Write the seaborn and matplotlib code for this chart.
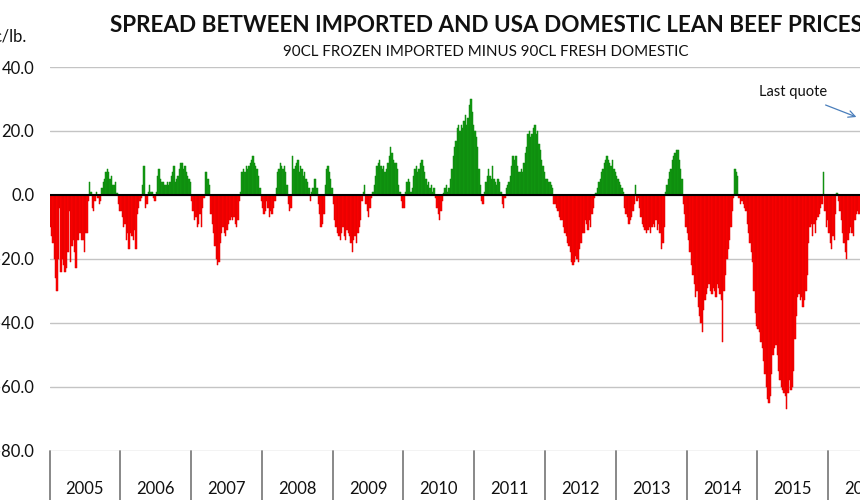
import numpy as np
import pandas as pd
import matplotlib
matplotlib.use("Agg")
import matplotlib.pyplot as plt
import matplotlib.transforms as mtransforms
from matplotlib.colors import to_rgb
import seaborn as sns

# ---- data: weekly spread, US cents per lb ----
years = [2005, 2006, 2007, 2008, 2009, 2010, 2011, 2012, 2013, 2014, 2015, 2016]

v2005 = [-10, -13, -15, -20, -26, -30, -20, -4, -24, -20, -22, -24, -23, -18, -5, -21, -16, -14, -18, -23,
         -14, -14, -12, -14, -14, -18, -12, -12, -2, 4, 1, -4, -5, -2, 1, -1, -3, -2, 2, 4,
         5, 7, 8, 7, 5, 6, 3, 3, 4, 0.5, -3, -5]
v2006 = [-5, -7, -10, -9, -14, -12, -17, -12, -13, -14, -11, -17, -6, -4, -2, -1, 3, 9, -4, -3,
         1, 3, 1, 1, -1, -2, 1, 6, 8, 5, 4, 4, 3, 3, 4, 3, 4, 6, 7, 9,
         4, 5, 6, 8, 10, 10, 8, 9, 7, 6, 5, 4]
v2007 = [-2, -5, -8, -7, -10, -9, -6, -10, -4, -1, 7, 7, 5, 3, -6, -9, -12, -16, -20, -22,
         -21, -15, -12, -10, -12, -13, -11, -9, -8, -7, -8, -7, -9, -10, -8, -2, 1, 7, 8, 7,
         9, 8, 9, 10, 11, 12, 10, 9, 8, 6, 2, -2]
v2008 = [-4, -6, -5, -2, -4, -7, -5, -6, -4, -2, 2, 7, 8, 10, 9, 8, 9, 7, 3, -3,
         -5, -4, 12, 8, 9, 10, 11, 7, 9, 8, 6, 7, 5, 4, 2, -2, 1, 2, 5, 5,
         2, -3, -6, -10, -9, -6, 3, 8, 9, 7, 5, 2]
v2009 = [-3, -8, -10, -12, -13, -14, -12, -10, -13, -14, -11, -12, -13, -15, -18, -14, -13, -15, -12, -10,
         -8, -2, 1, 3, -3, -5, -7, -4, -1, 1, 3, 6, 9, 10, 11, 9, 8, 9, 7, 8,
         10, 12, 15, 13, 11, 10, 10, 8, 3, 1, -2, -4]
v2010 = [-4, 1, 4, 5, 4, 1, 2, 6, 8, 9, 7, 8, 10, 11, 9, 7, 5, 3, 4, 2,
         3, 1, 2, -1, -4, -6, -8, -5, -2, 0.5, 2, 3, 1, 2, 5, 8, 12, 15, 17, 21,
         22, 20, 22, 21, 23, 25, 22, 24, 28, 30, 26, 22]
v2011 = [20, 18, 15, 8, 3, -2, -3, 1, 4, 6, 8, 6, 5, 9, 5, 4, 3, 5, 4, 1,
         -3, -4, -1, 2, 3, 4, 6, 9, 12, 11, 12, 9, 7, 7, 8, 7, 10, 13, 15, 19,
         20, 18, 19, 21, 22, 19, 20, 16, 14, 11, 9, 7]
v2012 = [5, 5, 4, 4, 3, 2, -3, -3, -4, -5, -7, -8, -8, -10, -12, -13, -15, -16, -18, -21,
         -22, -21, -19, -20, -21, -17, -15, -12, -12, -8, -9, -11, -8, -10, -6, -4, -1, 0.5, 2, 4,
         5, 7, 8, 10, 11, 12, 11, 10, 9, 11, 8, 7]
v2013 = [6, 5, 4, 3, 2, 1, -4, -6, -7, -9, -8, -7, -5, -3, 3, -2, -1, -4, -7, -9,
         -10, -11, -12, -11, -10, -12, -10, -9, -10, -8, -11, -9, -12, -17, -15, -10, 1, 3, 5, 7,
         8, 11, 12, 13, 14, 14, 11, 8, 5, -3, -6, -10]
v2014 = [-12, -14, -18, -22, -25, -28, -32, -30, -35, -38, -40, -43, -36, -33, -31, -29, -28, -30, -31, -29,
         -30, -32, -28, -29, -31, -33, -46, -30, -25, -20, -17, -14, -10, -5, -1, 8, 7, 6, -1, -3,
         -2, -3, -4, -5, -9, -12, -15, -18, -21, -30, -37, -41]
v2015 = [-42, -43, -46, -48, -52, -56, -60, -64, -65, -63, -56, -50, -48, -47, -50, -55, -58, -60, -61, -62,
         -63, -67, -62, -58, -61, -60, -55, -45, -38, -32, -31, -33, -32, -35, -33, -30, -25, -15, -10, -9,
         -13, -9, -12, -8, -7, -6, -4, -3, 7, -5, -10, -8]
v2016 = [-12, -15, -17, -13, -14, -6, 0.5, -2, -5, -8, -12, -15, -18, -20, -14, -12, -10, -12, -13, -8,
         -6, -5, -6]

series = [v2005, v2006, v2007, v2008, v2009, v2010, v2011, v2012, v2013, v2014, v2015, v2016]
yticks = [-80, -60, -40, -20, 0, 20, 40]

title = "SPREAD BETWEEN IMPORTED AND USA DOMESTIC LEAN BEEF PRICES"
subtitle = "90CL FROZEN IMPORTED MINUS 90CL FRESH DOMESTIC"
unit = "¢/lb."
note = "Last quote"

WEEKS = 52
rows = []
for k, (yr, vals) in enumerate(zip(years, series)):
    for w, v in enumerate(vals):
        rows.append((k * WEEKS + w, yr, v))
df = pd.DataFrame(rows, columns=["week", "year", "spread"])
df["sign"] = np.where(df["spread"] >= 0, "pos", "neg")

sns.set_theme(style="white")
plt.rcParams["font.family"] = ["Lato", "DejaVu Sans"]
plt.rcParams["axes.unicode_minus"] = False

W, H = 860, 500
fig = plt.figure(figsize=(W / 100, H / 100), dpi=100)
x0, x1 = 49.5, 49.5 + 12 * 70.8
ytop, ybot = 67.0, 450.5
ax = fig.add_axes([x0 / W, 1 - ybot / H, (x1 - x0) / W, (ybot - ytop) / H])

GREEN, RED = "#119A11", "#FF0000"
sns.barplot(data=df, x="week", y="spread", hue="sign",
            palette={"pos": GREEN, "neg": RED}, native_scale=True,
            width=1, dodge=False, saturation=1, errorbar=None,
            legend=False, ax=ax)
for p in ax.patches:
    fc = np.array(to_rgb(p.get_facecolor()))
    p.set_edgecolor(tuple(fc * 0.88))
    p.set_linewidth(0.35)

ax.set_xlim(-0.5, len(years) * WEEKS - 0.5)
ax.set_ylim(-80, 40)
ax.set_yticks(yticks)
ax.set_yticklabels([f"{v:.1f}" for v in yticks])
ax.tick_params(axis="y", length=0, pad=11, labelsize=12, labelcolor="#111111")
ax.set_xticks([])
ax.set_xlabel("")
ax.set_ylabel("")
ax.set_axisbelow(True)
ax.yaxis.grid(True, color="#C4C4C4", lw=1.0)
for s in ax.spines.values():
    s.set_visible(False)
ax.axhline(0, color="#000000", lw=1.5, zorder=5)

blend = mtransforms.blended_transform_factory(ax.transData, ax.transAxes)
axh = ybot - ytop
for k in range(len(years) + 1):
    ax.plot([k * WEEKS - 0.5] * 2, [0, -0.2], transform=blend, clip_on=False,
            color="#7F7F7F", lw=1.3)
for k, yr in enumerate(years):
    ax.text(k * WEEKS + WEEKS / 2 - 0.5, -(489 - ybot) / axh, str(yr), transform=blend,
            ha="center", va="center", fontsize=12, color="#111111", clip_on=False)

fig.text(486 / W, 1 - 25 / H, title, ha="center", va="center",
         fontsize=16.2, fontweight="bold", color="#111111")
fig.text(486 / W, 1 - 52 / H, subtitle, ha="center", va="center",
         fontsize=10.9, color="#111111")
fig.text(27 / W, 1 - 37 / H, unit, ha="right", va="center", fontsize=12, color="#111111")
fig.text(793 / W, 1 - 92 / H, note, ha="center", va="center", fontsize=10.5, color="#111111")
ax.annotate("", xy=(859, H - 118), xytext=(823, H - 104), xycoords="figure pixels",
            textcoords="figure pixels",
            arrowprops=dict(arrowstyle="->", color="#4A7EBB", lw=0.9))

fig.savefig("out.png", dpi=100)
